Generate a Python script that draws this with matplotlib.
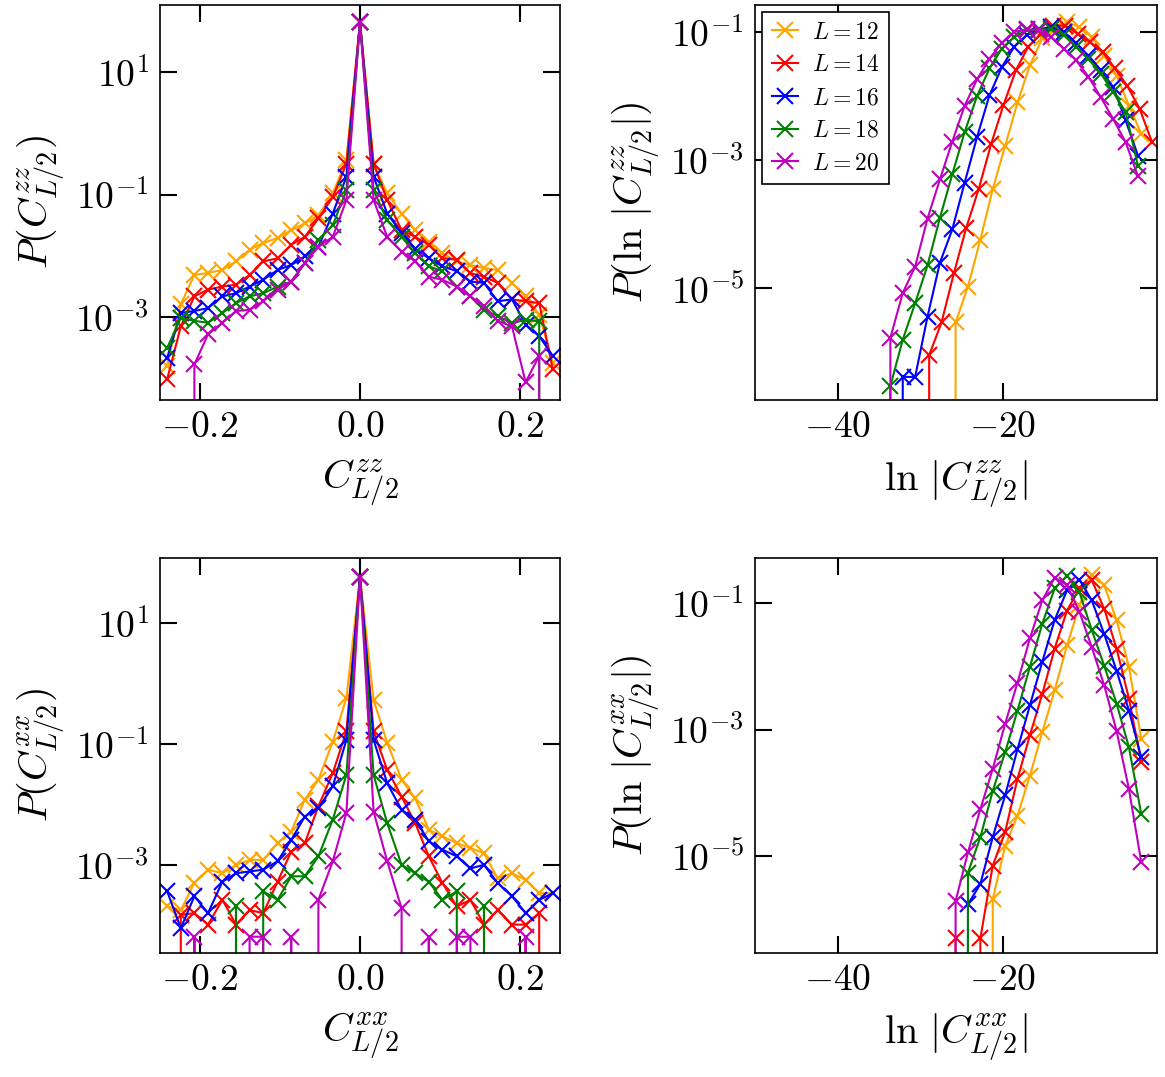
import matplotlib
matplotlib.use("Agg")
import matplotlib.pyplot as plt
import numpy as np
from matplotlib.ticker import FixedLocator, NullLocator

plt.rcParams["font.family"] = "serif"
plt.rcParams["font.serif"] = ["cmr10", "DejaVu Serif"]
plt.rcParams["mathtext.fontset"] = "cm"
plt.rcParams["axes.formatter.use_mathtext"] = True
plt.rcParams["axes.unicode_minus"] = True

labels = ["$L=12$", "$L=14$", "$L=16$", "$L=18$", "$L=20$"]
colors = ["orange", "red", "blue", "green", "m"]

# bin centres of the correlation histograms
c_bins = [-0.241, -0.224, -0.207, -0.190, -0.172, -0.155, -0.138, -0.121, -0.103, -0.086,
          -0.069, -0.052, -0.034, -0.017, 0.0, 0.017, 0.034, 0.052, 0.069, 0.086,
          0.103, 0.121, 0.138, 0.155, 0.172, 0.190, 0.207, 0.224, 0.241]
peak = 1.81

# log10 P(C^zz), None means empty bin
zz_log = [
    [-3.79, -2.79, -2.31, -2.28, -2.23, -2.09, -1.90, -1.79, -1.71, -1.58, -1.47, -1.34, -0.98, -0.44, peak,
     -0.50, -0.98, -1.31, -1.58, -1.77, -1.96, -2.09, -2.15, -2.20, -2.23, -2.44, -2.66, -2.96, -3.74],
    [-4.01, -3.15, -2.66, -2.55, -2.50, -2.47, -2.31, -2.09, -2.04, -1.82, -1.69, -1.39, -1.04, -0.50, peak,
     -0.50, -1.09, -1.58, -1.69, -1.82, -2.04, -2.06, -2.28, -2.34, -2.44, -2.71, -2.74, -2.77, -3.85],
    [-3.66, -2.93, -2.90, -2.85, -2.66, -2.61, -2.50, -2.39, -2.23, -2.15, -2.01, -1.85, -1.31, -0.71, peak,
     -0.71, -1.31, -1.63, -1.88, -2.04, -2.17, -2.25, -2.42, -2.44, -2.74, -2.71, -3.12, -3.31, -3.63],
    [-3.50, -3.01, -3.06, -3.09, -2.93, -2.77, -2.66, -2.61, -2.50, -2.42, -2.12, -1.74, -1.50, -0.93, peak,
     -0.93, -1.42, -1.69, -1.96, -2.17, -2.25, -2.50, -2.66, -2.88, -2.98, -3.10, -3.04, -3.07, None],
    [None, None, -3.77, -3.28, -3.09, -2.90, -2.88, -2.74, -2.55, -2.42, -2.12, -1.85, -1.69, -1.09, peak,
     -1.09, -1.69, -1.93, -2.09, -2.34, -2.39, -2.50, -2.66, -2.82, -3.06, -3.15, -4.06, -3.63, None],
]

# log10 P(C^xx)
xx_log = [
    [-3.69, -3.75, -3.30, -3.08, -3.14, -3.00, -2.92, -2.92, -2.64, -2.45, -1.92, -1.59, -0.96, -0.24, 1.77,
     -0.27, -0.98, -1.59, -1.90, -2.42, -2.53, -2.64, -2.72, -2.81, -3.22, -3.14, -3.25, -3.47, -3.47],
    [None, -3.83, -3.80, -3.99, -3.58, -3.99, -3.75, -3.80, -3.28, -2.78, -2.64, -2.03, -1.48, -0.79, 1.77,
     -0.79, -1.43, -1.87, -2.31, -2.86, -3.30, -3.69, -3.58, -3.99, -3.75, -3.99, -3.99, -3.80, None],
    [-3.44, -4.05, -3.52, -3.80, -3.28, -3.14, -3.11, -3.08, -2.94, -2.59, -2.20, -2.06, -1.70, -0.93, 1.77,
     -0.93, -1.65, -2.09, -2.25, -2.61, -2.75, -2.86, -3.06, -3.00, -3.30, -3.52, -3.80, -3.58, -3.47],
    [None, None, None, None, None, -3.69, None, -3.44, -3.58, -3.19, -3.19, -2.86, -2.25, -1.51, 1.77,
     -1.51, -2.31, -3.00, -3.14, -3.28, -3.58, -3.44, None, -3.69, None, None, None, None, None],
    [None, None, -4.19, None, None, None, -4.19, -4.19, None, -4.19, None, -3.58, -2.94, -2.14, 1.77,
     -2.12, -2.94, -3.72, None, -4.19, None, -4.19, -4.19, None, None, None, -4.19, None, None],
]

# ln|C| histograms: start of the first bin per series, bin width 1.5
ln_zz_start = [-27.2, -30.4, -33.6, -35.1, -35.1]
ln_zz_log = [
    [None, -5.53, -4.97, -4.24, -3.45, -2.78, -2.10, -1.52, -1.10, -0.95, -0.85, -0.92, -1.08, -1.37, -1.68,
     -2.15, -2.59],
    [None, -6.04, -5.53, -4.76, -4.05, -3.45, -2.75, -2.14, -1.60, -1.23, -1.03, -0.90, -0.90, -1.03, -1.16,
     -1.31, -1.57, -1.84, -2.20, -2.72],
    [None, -6.38, -6.38, -5.44, -4.60, -4.08, -3.35, -2.64, -1.99, -1.55, -1.23, -1.05, -0.96, -0.92, -1.00,
     -1.18, -1.37, -1.60, -1.86, -2.38, -2.93],
    [None, -6.52, -5.80, -5.23, -4.64, -3.90, -3.22, -2.56, -2.00, -1.57, -1.26, -1.08, -0.97, -0.96, -0.96,
     -1.05, -1.23, -1.42, -1.65, -1.94, -2.25, -3.09],
    [None, -5.77, -5.07, -4.66, -3.91, -3.30, -2.71, -2.15, -1.74, -1.42, -1.17, -1.00, -0.96, -0.97, -1.08,
     -1.26, -1.44, -1.70, -2.02, -2.36, -2.72, -3.25],
]
ln_xx_start = [-22.7, -25.7, -25.7, -25.7, -27.2]
ln_xx_log = [
    [None, -5.68, -4.84, -4.36, -3.73, -3.04, -2.38, -1.67, -1.04, -0.56, -0.72, -1.27, -2.01, -3.15],
    [-6.30, None, -6.30, -5.15, -4.62, -3.78, -3.09, -2.44, -1.72, -1.12, -0.77, -0.64, -1.09, -1.72, -2.51,
     -3.52],
    [None, -5.76, -5.44, -4.70, -4.04, -3.31, -2.62, -1.93, -1.27, -0.80, -0.63, -0.96, -1.49, -2.07, -2.70,
     -3.44],
    [None, -5.26, -4.70, -3.97, -3.36, -2.70, -2.01, -1.33, -0.77, -0.57, -0.83, -1.43, -1.99, -2.59, -3.28,
     -4.34],
    [None, -5.71, -4.94, -4.26, -3.62, -2.91, -2.26, -1.56, -0.96, -0.60, -0.72, -1.14, -1.70, -2.30, -3.02,
     -3.94, -5.10],
]


def to_prob(vals):
    return np.array([0.0 if v is None else 10.0 ** v for v in vals])


def style(ax, xticks, yticks, xlim, ylim):
    ax.set_yscale("log", nonpositive="clip")
    ax.set_xlim(*xlim)
    ax.set_ylim(*ylim)
    ax.xaxis.set_major_locator(FixedLocator(xticks))
    ax.yaxis.set_major_locator(FixedLocator(yticks))
    ax.yaxis.set_minor_locator(NullLocator())
    ax.xaxis.set_minor_locator(NullLocator())
    ax.tick_params(direction="in", top=True, right=True, length=12, width=1.5, labelsize=27, pad=8)
    for s in ax.spines.values():
        s.set_linewidth(1.2)


W, H = 1165, 1077
fig = plt.figure(figsize=(W / 100, H / 100), dpi=100)


def add_ax(x0, y0, x1, y1):
    return fig.add_axes([x0 / W, 1 - y1 / H, (x1 - x0) / W, (y1 - y0) / H])


ax_tl = add_ax(160, 5, 560, 400)
ax_tr = add_ax(755, 5, 1157, 400)
ax_bl = add_ax(160, 558, 560, 953)
ax_br = add_ax(755, 558, 1157, 953)

kw = dict(marker="x", markersize=12, markeredgewidth=1.5, lw=1.5)
for i in range(5):
    ax_tl.plot(c_bins, to_prob(zz_log[i]), color=colors[i], **kw)
    ax_bl.plot(c_bins, to_prob(xx_log[i]), color=colors[i], **kw)
    v = ln_zz_log[i]
    ax_tr.plot([ln_zz_start[i] + 1.5 * k for k in range(len(v))], to_prob(v),
               color=colors[i], label=labels[i], **kw)
    v = ln_xx_log[i]
    ax_br.plot([ln_xx_start[i] + 1.5 * k for k in range(len(v))], to_prob(v), color=colors[i], **kw)

style(ax_tl, [-0.2, 0.0, 0.2], [1e1, 1e-1, 1e-3], (-0.25, 0.25), (10 ** -4.35, 10 ** 2.09))
style(ax_bl, [-0.2, 0.0, 0.2], [1e1, 1e-1, 1e-3], (-0.25, 0.25), (10 ** -4.46, 10 ** 2.08))
style(ax_tr, [-40, -20], [1e-1, 1e-3, 1e-5], (-50, -1.3), (10 ** -6.74, 10 ** -0.58))
style(ax_br, [-40, -20], [1e-1, 1e-3, 1e-5], (-50, -1.3), (10 ** -6.53, 10 ** -0.29))

for ax in (ax_tl, ax_bl):
    ax.set_xticklabels(["$-0.2$", "$0.0$", "$0.2$"])

xlab = dict(fontsize=29, labelpad=10)
ylab = dict(fontsize=29, labelpad=6)
ax_tl.set_xlabel(r"$C^{zz}_{L/2}$", **xlab)
ax_tl.set_ylabel(r"$P(C^{zz}_{L/2})$", **ylab)
ax_bl.set_xlabel(r"$C^{xx}_{L/2}$", **xlab)
ax_bl.set_ylabel(r"$P(C^{xx}_{L/2})$", **ylab)
ax_tr.set_xlabel(r"$\ln\,|C^{zz}_{L/2}|$", **xlab)
ax_tr.set_ylabel(r"$P(\ln\,|C^{zz}_{L/2}|)$", **ylab)
ax_br.set_xlabel(r"$\ln\,|C^{xx}_{L/2}|$", **xlab)
ax_br.set_ylabel(r"$P(\ln\,|C^{xx}_{L/2}|)$", **ylab)

leg = ax_tr.legend(loc="upper left", fontsize=17, handlelength=1.1, fancybox=False,
                   edgecolor="black", framealpha=1, borderpad=0.4, labelspacing=0.45,
                   handletextpad=0.6, borderaxespad=0.3)
leg.get_frame().set_linewidth(1.2)

fig.savefig("out.png", dpi=100)
